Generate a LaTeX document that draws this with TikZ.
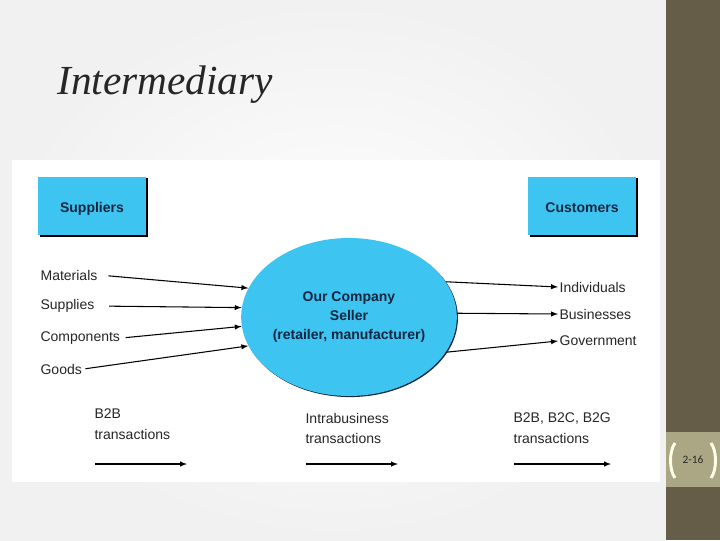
\documentclass[tikz,border=0pt]{standalone}
\usepackage{fontspec}
\setmainfont{Liberation Serif}
\setsansfont{Liberation Sans}
\newfontfamily\numfont{Carlito}
\usetikzlibrary{shapes.geometric,shadows}

\definecolor{skyfill}{RGB}{62,196,240}
\definecolor{navytext}{RGB}{18,38,66}
\definecolor{barbrown}{RGB}{101,93,72}
\definecolor{barkhaki}{RGB}{171,167,132}

\begin{document}
\begin{tikzpicture}[x=0.75pt,y=-0.75pt,
  box/.style={fill=skyfill, minimum width=81pt, minimum height=44pt,
    text height=12pt, text depth=2pt,
    font=\sffamily\bfseries\fontsize{10.5}{12}\selectfont, text=navytext,
    drop shadow={shadow xshift=1.2pt, shadow yshift=-1.2pt, fill=black, opacity=1}},
  item/.style={font=\sffamily\fontsize{10.5}{12}\selectfont, text=black!85, inner sep=1pt},
  legend/.style={item, align=left, anchor=north west,
    font=\sffamily\fontsize{10.5}{15.5}\selectfont},
  flow/.style={-latex, line width=0.8pt}]

\useasboundingbox (0,0) rectangle (720,540);

% Slide
\shade[inner color=white, outer color=gray!11] (0,0) rectangle (666,540);
\fill[white] (12,160) rectangle (660,482);
\fill[barbrown] (666,0) rectangle (720,540);
\fill[barkhaki] (666,432) rectangle (720,487);

\node[anchor=base west, inner sep=0pt, text=black!85,
  font=\itshape\fontsize{31}{36}\selectfont] (title) at (57,94) {Intermediary};

% Slide number
\node[text=black!85, font=\numfont\fontsize{8.5}{10}\selectfont] (pagenum) at (693,460) {2-16};
\draw[white!90!yellow, line width=2.2pt] (675,443) .. controls (669,451) and (669,470) .. (675,478);
\draw[white!90!yellow, line width=2.2pt] (711,443) .. controls (717,451) and (717,470) .. (711,478);

% Boxes and seller
\node[box] (suppliers) at (92,206) {Suppliers};
\node[box] (customers) at (582,206) {Customers};

\node[ellipse, fill=skyfill, minimum width=160pt, minimum height=118.5pt, inner sep=0pt,
  align=center, text=navytext, font=\sffamily\bfseries\fontsize{10.5}{14}\selectfont,
  drop shadow={shadow xshift=0.8pt, shadow yshift=-0.8pt, fill=navytext, opacity=1}]
  (seller) at (349,317) {Our Company\\Seller\\(retailer, manufacturer)};

% Inputs
\node[item, anchor=west] (mat) at (39,275) {Materials};
\node[item, anchor=west] (sup) at (39,306) {Supplies};
\node[item, anchor=west] (comp) at (39,338) {Components};
\node[item, anchor=west] (goods) at (39,369) {Goods};

\draw[flow, shorten <=7pt] (mat.east) -- (seller.164);
\draw[flow, shorten <=10pt] (sup.east) -- (seller.175);
\draw[flow, shorten <=3pt] (comp.east) -- (seller.185);
\draw[flow, shorten <=1.5pt] (goods.east) -- (seller.196);

% Outputs
\node[item, anchor=west] (indiv) at (558,287) {Individuals};
\node[item, anchor=west] (bus) at (558,314) {Businesses};
\node[item, anchor=west] (gov) at (558,341) {Government};

\draw[flow] (seller.20) -- (indiv.west);
\draw[flow] (seller.2) -- (bus.west);
\draw[flow] (seller.-20) -- (gov.west);

% Transactions
\node[legend] (btob) at (93,407.5) {B2B\\transactions};
\node[legend] (intra) at (304,411.5) {Intrabusiness\\transactions};
\node[legend] (bmix) at (512,411.5) {B2B, B2C, B2G\\transactions};

\coordinate (btobS) at (95,464);
\coordinate (btobE) at (187,464);
\coordinate (intraS) at (306,464);
\coordinate (intraE) at (398,464);
\coordinate (bmixS) at (514,464);
\coordinate (bmixE) at (611,464);

\draw[flow] (btobS) -- (btobE);
\draw[flow] (intraS) -- (intraE);
\draw[flow] (bmixS) -- (bmixE);

\end{tikzpicture}
\end{document}
